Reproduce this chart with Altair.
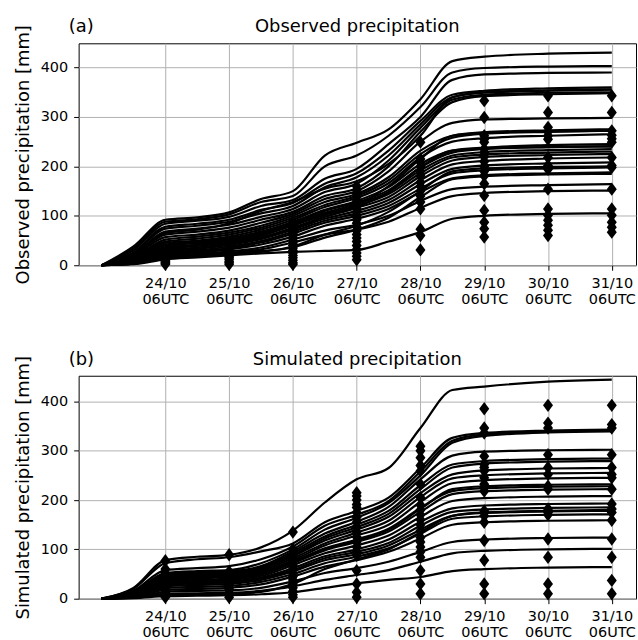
import altair as alt
import pandas as pd

# time nodes: days since 23/10 06UTC
T = [0, 0.5, 1, 1.5, 2, 2.5, 3, 3.5, 4, 4.5, 5, 5.5, 6, 7, 8]
DAY_LABELS = ["24/10", "25/10", "26/10", "27/10", "28/10", "29/10", "30/10", "31/10"]
HOUR_LABEL = "06UTC"
Y_TICKS = [0, 100, 200, 300, 400]

obs_lines = [
    [0, 38, 92, 97, 107, 134, 150, 222, 248, 275, 336, 413, 422, 428, 430],
    [0, 34, 88, 93, 103, 128, 140, 200, 222, 262, 320, 390, 399, 402, 403],
    [0, 30, 84, 90, 98, 120, 132, 175, 195, 245, 300, 375, 386, 389, 390],
    [0, 26, 78, 84, 92, 112, 126, 165, 186, 232, 292, 345, 353, 358, 360],
    [0, 24, 74, 80, 88, 105, 120, 158, 178, 222, 285, 340, 349, 353, 355],
    [0, 22, 68, 74, 82, 98, 114, 148, 165, 212, 278, 335, 345, 349, 350],
    [0, 20, 62, 68, 76, 92, 108, 140, 156, 200, 270, 330, 342, 346, 348],
    [0, 18, 57, 62, 70, 86, 104, 134, 150, 190, 250, 288, 295, 297, 298],
    [0, 16, 52, 58, 66, 80, 100, 128, 144, 178, 232, 262, 269, 273, 275],
    [0, 15, 48, 54, 62, 76, 96, 122, 140, 172, 225, 258, 266, 270, 272],
    [0, 14, 45, 50, 58, 72, 92, 118, 136, 166, 218, 250, 257, 262, 265],
    [0, 12, 42, 47, 55, 68, 88, 112, 130, 158, 205, 232, 238, 243, 245],
    [0, 11, 40, 45, 52, 65, 86, 110, 127, 152, 198, 228, 235, 239, 241],
    [0, 10, 37, 42, 50, 62, 84, 106, 124, 148, 192, 222, 229, 233, 235],
    [0, 9, 34, 39, 47, 60, 80, 102, 120, 144, 186, 218, 224, 228, 230],
    [0, 8, 31, 36, 44, 56, 76, 98, 116, 138, 180, 212, 219, 223, 225],
    [0, 7, 29, 33, 41, 53, 72, 94, 110, 132, 172, 204, 211, 216, 218],
    [0, 6, 26, 30, 38, 49, 68, 90, 105, 126, 164, 195, 202, 206, 208],
    [0, 5, 24, 28, 35, 46, 64, 86, 100, 120, 155, 186, 192, 196, 198],
    [0, 5, 22, 26, 32, 42, 58, 80, 94, 114, 148, 176, 182, 186, 188],
    [0, 4, 20, 23, 28, 36, 52, 70, 82, 100, 130, 154, 159, 162, 164],
    [0, 3, 17, 20, 25, 32, 46, 62, 72, 88, 116, 140, 146, 150, 151],
    [0, 2, 12, 16, 20, 24, 27, 29, 31, 48, 67, 94, 100, 104, 105],
    [0, 3, 15, 18, 22, 27, 38, 62, 80, 108, 150, 190, 196, 199, 200],
    [0, 4, 28, 34, 44, 56, 74, 98, 118, 148, 198, 232, 236, 239, 240],
    [0, 3, 18, 21, 24, 29, 36, 56, 72, 96, 138, 174, 180, 184, 185],
    [0, 6, 35, 40, 48, 60, 82, 104, 122, 160, 215, 262, 268, 271, 272],
    [0, 20, 65, 72, 85, 110, 128, 155, 170, 205, 262, 340, 350, 354, 356],
]

sim_lines = [
    [0, 22, 78, 85, 89, 104, 138, 195, 242, 265, 346, 423, 430, 440, 444],
    [0, 20, 72, 80, 84, 96, 112, 155, 178, 205, 265, 326, 336, 341, 343],
    [0, 16, 58, 62, 66, 80, 106, 148, 170, 198, 258, 320, 333, 339, 341],
    [0, 14, 52, 56, 58, 72, 100, 140, 164, 194, 250, 316, 330, 337, 339],
    [0, 13, 50, 54, 56, 66, 96, 132, 156, 186, 242, 290, 298, 301, 302],
    [0, 12, 48, 52, 54, 64, 92, 126, 150, 178, 230, 272, 279, 283, 284],
    [0, 11, 46, 50, 52, 62, 88, 122, 145, 172, 222, 266, 274, 278, 279],
    [0, 10, 44, 47, 50, 60, 86, 118, 140, 166, 214, 252, 260, 264, 265],
    [0, 9, 42, 45, 48, 57, 82, 112, 134, 158, 206, 244, 250, 254, 255],
    [0, 8, 40, 43, 46, 54, 78, 108, 128, 150, 196, 234, 240, 244, 245],
    [0, 8, 38, 41, 44, 52, 75, 102, 120, 142, 184, 218, 224, 227, 228],
    [0, 7, 35, 38, 41, 49, 72, 98, 115, 136, 176, 212, 218, 221, 222],
    [0, 6, 32, 35, 38, 46, 68, 92, 108, 128, 166, 198, 204, 207, 208],
    [0, 5, 30, 33, 35, 43, 62, 86, 100, 120, 156, 183, 189, 192, 193],
    [0, 5, 28, 31, 33, 41, 58, 82, 95, 113, 148, 176, 181, 184, 185],
    [0, 4, 25, 28, 30, 38, 55, 78, 90, 108, 140, 168, 174, 177, 178],
    [0, 4, 22, 24, 26, 34, 50, 72, 85, 102, 132, 162, 167, 170, 171],
    [0, 3, 18, 20, 22, 29, 45, 65, 78, 95, 122, 150, 155, 158, 159],
    [0, 2, 14, 16, 17, 22, 35, 52, 62, 75, 95, 115, 120, 123, 124],
    [0, 2, 10, 11, 12, 16, 25, 38, 48, 58, 75, 92, 97, 100, 101],
    [0, 1, 5, 6, 7, 9, 13, 22, 31, 38, 44, 56, 60, 63, 64],
    [0, 2, 8, 9, 10, 14, 30, 60, 80, 100, 135, 168, 175, 178, 180],
    [0, 6, 33, 36, 40, 50, 74, 100, 118, 140, 182, 222, 228, 231, 232],
]

# diamond markers at each day (index = day tick 1..8)
obs_d1 = [2, 4, 6, 8, 10]
obs_d2 = [2, 5, 8, 12, 15, 18, 22, 25, 28, 30]
obs_d3 = [2, 5, 10, 15, 20, 25, 30, 35, 40, 45, 50, 55, 60, 65, 70, 75, 80, 88]
obs_d4 = [11, 18, 25, 32, 40, 48, 55, 62, 70, 78, 85, 92, 100, 108, 115, 122, 130, 138, 145, 152, 160]
obs_d5 = [31, 60, 73, 114, 128, 140, 150, 160, 168, 181, 190, 200, 208, 215, 249]
obs_d6 = [57, 74, 87, 111, 141, 165, 181, 190, 200, 210, 220, 228, 235, 249, 255, 262, 299, 333]
obs_d7 = [60, 71, 81, 91, 101, 114, 154, 194, 202, 218, 255, 262, 270, 279, 309, 343]
obs_d8 = [67, 77, 87, 101, 114, 154, 198, 202, 218, 249, 256, 263, 272, 309, 343]
obs_diamonds = [obs_d1, obs_d2, obs_d3, obs_d4, obs_d5, obs_d6, obs_d7, obs_d8]

sim_d1 = [3, 8, 12, 18, 22, 28, 32, 38, 42, 48, 52, 60, 77]
sim_d2 = [3, 8, 12, 18, 22, 28, 32, 38, 42, 48, 55, 89]
sim_d3 = [3, 8, 15, 22, 30, 38, 45, 52, 60, 68, 75, 82, 90, 100, 135]
sim_d4 = [3, 13, 30, 57, 88, 95, 105, 115, 125, 135, 145, 155, 165, 175, 185, 191, 200, 208, 215]
sim_d5 = [10, 30, 57, 84, 95, 105, 115, 124, 138, 150, 160, 170, 180, 190, 205, 232, 259, 270, 286, 300, 309]
sim_d6 = [10, 30, 78, 118, 155, 168, 178, 218, 225, 232, 245, 259, 266, 272, 289, 336, 346, 385]
sim_d7 = [10, 30, 84, 121, 170, 175, 182, 222, 228, 252, 266, 292, 346, 356, 392]
sim_d8 = [10, 37, 84, 121, 159, 175, 182, 192, 222, 245, 252, 266, 292, 346, 353, 392]
sim_diamonds = [sim_d1, sim_d2, sim_d3, sim_d4, sim_d5, sim_d6, sim_d7, sim_d8]

FONT = "DejaVu Sans"
DIAMOND = "M0,-1L0.75,0L0,1L-0.75,0Z"
W, H1, H2 = 560, 223, 224

label_list = "[" + ",".join("'" + d + "'" for d in DAY_LABELS) + "]"
label_expr = f"[{label_list}[datum.value - 1], '{HOUR_LABEL}']"


def panel(lines, diamonds, ytitle, title, tag, ymax, h):
    ldf = pd.DataFrame(
        [{"s": i, "t": t, "v": v} for i, ln in enumerate(lines) for t, v in zip(T, ln)]
    )
    ddf = pd.DataFrame(
        [{"t": k + 1, "v": v} for k, vals in enumerate(diamonds) for v in vals]
    )
    x = alt.X(
        "t:Q",
        scale=alt.Scale(domain=[-0.36, 8.38], nice=False, zero=False),
        axis=alt.Axis(
            values=list(range(1, 9)),
            labelExpr=label_expr,
            title=None,
            labelLineHeight=16,
        ),
    )
    y = alt.Y(
        "v:Q",
        scale=alt.Scale(domain=[0, ymax], nice=False),
        axis=alt.Axis(values=Y_TICKS, title=ytitle, titlePadding=8),
    )
    ln = alt.Chart(ldf).mark_line(
        color="black", strokeWidth=2.2, interpolate="monotone"
    ).encode(x=x, y=y, detail="s:N")
    dm = alt.Chart(ddf).mark_point(
        shape=DIAMOND, filled=True, color="black", size=180, opacity=1
    ).encode(x=x, y=y)
    tg = alt.Chart(pd.DataFrame({"label": [tag]})).mark_text(
        align="left", baseline="middle", fontSize=18, font=FONT, color="black"
    ).encode(text="label:N", x=alt.value(-10), y=alt.value(-16))
    tt = alt.Chart(pd.DataFrame({"label": [title]})).mark_text(
        align="center", baseline="middle", fontSize=18, font=FONT, color="black"
    ).encode(text="label:N", x=alt.value(W / 2), y=alt.value(-16))
    return alt.layer(ln, dm, tg, tt).properties(width=W, height=h)


top = panel(obs_lines, obs_diamonds, "Observed precipitation [mm]",
            "Observed precipitation", "(a)", 449, H1)
bot = panel(sim_lines, sim_diamonds, "Simulated precipitation [mm]",
            "Simulated precipitation", "(b)", 452, H2)

chart = alt.vconcat(top, bot, spacing=111, bounds="flush").properties(
    padding={"left": 13, "top": 16, "right": 1, "bottom": 2}
).configure_view(
    stroke="black", strokeWidth=1
).configure_axis(
    labelFont=FONT, labelFontSize=14.5, labelColor="black",
    titleFont=FONT, titleFontSize=18, titleFontWeight="normal", titleColor="black",
    tickColor="black", tickSize=5, tickWidth=1, labelPadding=6,
    gridColor="#b0b0b0", gridWidth=1, domain=False,
)

chart.save("out.html", embed_options={"renderer": "svg", "actions": False})
